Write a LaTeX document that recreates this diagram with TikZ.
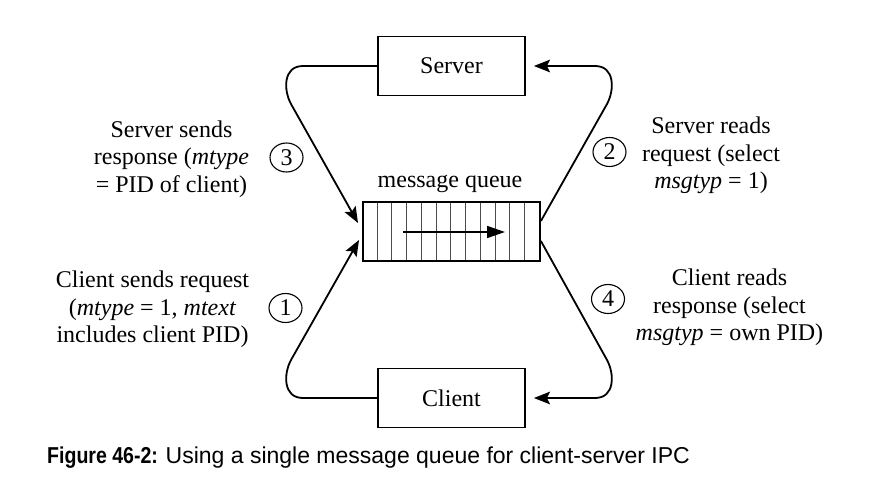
\documentclass[tikz,border=0pt]{standalone}
\usepackage{fontspec}
\setmainfont{Liberation Serif}
\newfontfamily\capfont{Liberation Sans}
\newfontfamily\capboldfont[FakeStretch=0.85]{Liberation Sans}
\usetikzlibrary{arrows.meta,shapes.geometric}
\begin{document}
\begin{tikzpicture}[x=1pt,y=-1pt,
  font=\fontsize{24}{27.5}\selectfont,
  box/.style={draw, line width=1.8pt, minimum width=147pt, minimum height=59pt, inner sep=0pt},
  qbox/.style={draw, line width=1.8pt, minimum width=177pt, minimum height=59pt, inner sep=0pt},
  cell/.style={line width=0.7pt, draw=black!70},
  conn/.style={line width=1.8pt, line join=round, -{Stealth[length=16pt,width=12.5pt,inset=3pt]}},
  flow/.style={line width=1.5pt, -{Triangle[length=18pt,width=12pt]}},
  num/.style={draw, ellipse, line width=1.1pt, minimum width=33pt, minimum height=29pt, inner sep=0pt},
  lbl/.style={align=center, inner sep=0pt}]
\useasboundingbox (0,0) rectangle (890,478);

% boxes
\node[box] (server) at (451.5,66) {Server};
\node[box] (client) at (451.5,398) {Client};
\node[qbox] (queue) at (451.5,231.5) {};
\foreach \i in {1,...,11}
  \draw[cell] ([xshift=\i*14.75pt]queue.north west) -- ([xshift=\i*14.75pt]queue.south west);
\node[qbox] at (queue) {};
\coordinate (qa) at (403,232);
\coordinate (qb) at (505,232);
\draw[flow] (qa) -- (qb);
\node[lbl, anchor=base] (mq) at (450,188) {message queue};

% connectors
\coordinate (inT) at (358,223);
\coordinate (inB) at (359,240);
\draw[conn] (server.west) -- (303,66) .. controls (283,66) and (283.4,90) .. (291,104) -- (inT);
\draw[conn] (client.west) -- (303,398) .. controls (283,398) and (283.4,374) .. (291,360) -- (inB);
\draw[conn] ([yshift=10.5pt]queue.east) -- (607,104) .. controls (614.6,90) and (615,66) .. (595,66) -- ([xshift=8pt]server.east);
\draw[conn] ([yshift=-9.5pt]queue.east) -- (607,360) .. controls (614.6,374) and (615,398) .. (595,398) -- ([xshift=8pt]client.east);

% step numbers
\node[num] (c3) at (286.5,157.5) {3};
\node[num] (c2) at (609.5,152) {2};
\node[num] (c1) at (285.5,308) {1};
\node[num] (c4) at (608,299) {4};

% labels
\node[lbl] (t3) at (171.5,159) {Server sends\\response (\textit{mtype}\\= PID of client)};
\node[lbl] (t2) at (711,155.5) {Server reads\\request (select\\\textit{msgtyp} = 1)};
\node[lbl] (t1) at (152.5,309.5) {Client sends request\\(\textit{mtype} = 1, \textit{mtext}\\includes client PID)};
\node[lbl] (t4) at (729.5,307.5) {Client reads\\response (select\\\textit{msgtyp} = own PID)};

% caption
\node[anchor=base west, inner sep=0pt] (cap) at (47,463) {\fontsize{23}{23}\selectfont{\capboldfont\bfseries Figure 46-2:} \capfont Using a single message queue for client-server IPC};
\end{tikzpicture}
\end{document}
